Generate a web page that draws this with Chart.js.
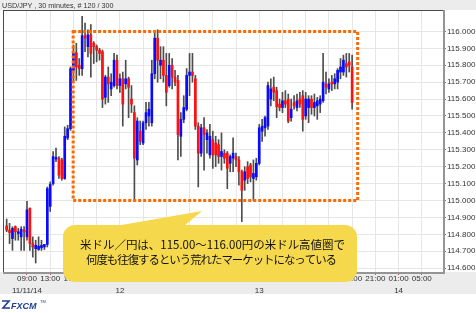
<!DOCTYPE html>
<html>
<head>
<meta charset="utf-8">
<title>USD/JPY 30 minutes</title>
<script src="https://cdn.jsdelivr.net/npm/chart.js@4.4.1/dist/chart.umd.min.js"></script>
<style>
  html, body { margin: 0; padding: 0; background: #ffffff; }
  canvas { display: block; }
</style>
</head>
<body>
<canvas id="usdjpyChart" width="476" height="313"></canvas>
<script>
// USD/JPY, 30 minute bars, 11/11/14 05:30 -> 13 17:00
var openPrices = [
  114.85, 114.825, 114.775, 114.845, 114.805, 114.785, 114.825, 114.785, 114.955, 114.745,
  114.715, 114.71, 114.72, 114.725, 114.74, 114.965, 115.10, 115.245, 115.25, 115.24,
  115.13, 115.37, 115.425, 115.77, 115.875, 115.80, 115.78, 115.975, 115.91, 115.98,
  115.93, 115.91, 115.89, 115.88, 115.61, 115.73, 115.66, 115.68, 115.83, 115.68,
  115.72, 115.69, 115.72, 115.60, 115.52, 115.24, 115.41, 115.34, 115.46, 115.50,
  115.46, 115.75, 115.96, 115.80, 115.83, 115.74, 115.68, 115.80, 115.73, 115.71,
  115.38, 115.48, 115.54, 115.74, 115.76, 115.72, 115.44, 115.28, 115.43, 115.36,
  115.27, 115.36, 115.34, 115.33, 115.26, 115.28, 115.28, 115.22, 115.25, 115.26,
  115.24, 115.17, 115.12, 115.20, 115.21, 115.13, 115.14, 115.22, 115.41, 115.43,
  115.44, 115.60, 115.67, 115.65, 115.57, 115.55, 115.59, 115.60, 115.49, 115.58,
  115.55, 115.60, 115.62, 115.50, 115.55, 115.60, 115.55, 115.56, 115.57, 115.59,
  115.69, 115.66, 115.70, 115.69, 115.70, 115.76, 115.76, 115.81, 115.82, 115.79
];
var highPrices = [
  114.89, 114.865, 114.845, 114.85, 114.835, 114.845, 114.845, 114.995, 114.955, 114.785,
  114.765, 114.785, 114.765, 114.74, 115.08, 115.11, 115.29, 115.31, 115.26, 115.25,
  115.435, 115.445, 115.79, 115.92, 115.93, 115.84, 116.09, 116.05, 116.01, 116.04,
  115.94, 115.92, 115.90, 115.89, 115.74, 115.79, 115.75, 115.87, 115.86, 115.75,
  115.76, 115.83, 115.73, 115.68, 115.56, 115.49, 115.47, 115.47, 115.58, 115.58,
  115.83, 116.00, 116.01, 115.91, 115.91, 115.87, 115.87, 115.84, 115.77, 115.74,
  115.52, 115.62, 115.78, 115.87, 115.87, 115.74, 115.46, 115.45, 115.49, 115.42,
  115.45, 115.41, 115.38, 115.36, 115.40, 115.30, 115.29, 115.27, 115.37, 115.28,
  115.26, 115.18, 115.20, 115.23, 115.22, 115.24, 115.25, 115.45, 115.48, 115.50,
  115.70, 115.72, 115.73, 115.67, 115.60, 115.64, 115.65, 115.63, 115.60, 115.62,
  115.63, 115.64, 115.65, 115.64, 115.62, 115.62, 115.63, 115.61, 115.62, 115.87,
  115.76, 115.72, 115.74, 115.75, 115.78, 115.84, 115.86, 115.87, 115.87, 115.86
];
var lowPrices = [
  114.815, 114.745, 114.705, 114.765, 114.765, 114.705, 114.705, 114.765, 114.705, 114.665,
  114.63, 114.705, 114.705, 114.71, 114.725, 114.935, 115.09, 115.23, 115.13, 115.12,
  115.125, 115.36, 115.415, 115.70, 115.71, 115.74, 115.74, 115.88, 115.85, 115.73,
  115.81, 115.82, 115.83, 115.55, 115.57, 115.58, 115.62, 115.67, 115.66, 115.64,
  115.44, 115.66, 115.49, 115.52, 115.00, 115.21, 115.33, 115.33, 115.42, 115.44,
  115.44, 115.72, 115.70, 115.72, 115.70, 115.56, 115.67, 115.66, 115.68, 115.24,
  115.26, 115.46, 115.53, 115.62, 115.70, 115.42, 115.08, 115.26, 115.18, 115.28,
  115.25, 115.19, 115.20, 115.22, 115.18, 115.22, 115.07, 115.17, 115.17, 115.20,
  115.09, 114.875, 115.06, 115.10, 115.11, 115.00, 115.12, 115.21, 115.35, 115.38,
  115.42, 115.56, 115.59, 115.49, 115.53, 115.52, 115.55, 115.46, 115.47, 115.54,
  115.53, 115.55, 115.41, 115.48, 115.46, 115.51, 115.50, 115.48, 115.52, 115.58,
  115.63, 115.64, 115.65, 115.66, 115.66, 115.72, 115.74, 115.73, 115.76, 115.54
];
var closePrices = [
  114.825, 114.81, 114.835, 114.815, 114.815, 114.83, 114.815, 114.945, 114.745, 114.725,
  114.735, 114.73, 114.735, 114.74, 115.07, 115.095, 115.26, 115.255, 115.15, 115.13,
  115.38, 115.425, 115.78, 115.87, 115.79, 115.78, 115.975, 115.96, 115.98, 115.87,
  115.91, 115.89, 115.87, 115.60, 115.73, 115.69, 115.70, 115.83, 115.68, 115.72,
  115.57, 115.72, 115.67, 115.57, 115.25, 115.47, 115.35, 115.46, 115.52, 115.54,
  115.75, 115.96, 115.83, 115.83, 115.74, 115.64, 115.80, 115.73, 115.70, 115.39,
  115.48, 115.55, 115.74, 115.76, 115.74, 115.44, 115.28, 115.43, 115.39, 115.40,
  115.38, 115.27, 115.27, 115.26, 115.29, 115.25, 115.19, 115.26, 115.28, 115.24,
  115.17, 115.06, 115.17, 115.13, 115.14, 115.16, 115.22, 115.43, 115.44, 115.49,
  115.68, 115.66, 115.64, 115.555, 115.55, 115.59, 115.57, 115.47, 115.54, 115.56,
  115.59, 115.57, 115.48, 115.60, 115.60, 115.55, 115.58, 115.59, 115.60, 115.70,
  115.67, 115.69, 115.69, 115.72, 115.77, 115.79, 115.83, 115.79, 115.80, 115.58
];

// x axis: one tick every 4 hours (8 bars), first tick on bar 7 (09:00)
var timeLabels = ['09:00', '13:00', '17:00', '21:00', '01:00', '05:00', '09:00', '13:00', '17:00',
                  '21:00', '01:00', '05:00', '09:00', '13:00', '17:00', '21:00', '01:00', '05:00'];
var dateLabels = ['11/11/14', '', '', '', '12', '', '', '', '',
                  '', '13', '', '', '', '', '', '14', ''];
var yTickValues = [114.6, 114.7, 114.8, 114.9, 115.0, 115.1, 115.2, 115.3,
                   115.4, 115.5, 115.6, 115.7, 115.8, 115.9, 116.0];

var firstTickBar = 7;
var barsPerTick = 8;

// orange range box (bars / prices)
var rangeBoxBars = [22.9, 120.9];
var rangeBoxPrices = [115.0, 116.0];

var calloutLines = ['米ドル／円は、115.00〜116.00円の米ドル高値圏で',
                    '何度も往復するという荒れたマーケットになっている'];

var upColor = '#0a0aff';
var downColor = '#ff1010';
var wickColor = '#4d4d4d';

function bodyData() {
  return closePrices.map(function(c, i) {
    return { x: i, y: [openPrices[i], c] };
  });
}

function wickData() {
  return highPrices.map(function(h, i) {
    return { x: i, y: [lowPrices[i], h] };
  });
}

function bodyColors() {
  return closePrices.map(function(c, i) {
    return c >= openPrices[i] ? upColor : downColor;
  });
}

function roundRectPath(ctx, x, y, w, h, r) {
  ctx.moveTo(x + r, y);
  ctx.lineTo(x + w - r, y);
  ctx.arcTo(x + w, y, x + w, y + r, r);
  ctx.lineTo(x + w, y + h - r);
  ctx.arcTo(x + w, y + h, x + w - r, y + h, r);
  ctx.lineTo(x + r, y + h);
  ctx.arcTo(x, y + h, x, y + h - r, r);
  ctx.lineTo(x, y + r);
  ctx.arcTo(x, y, x + r, y, r);
  ctx.closePath();
}

var backgroundPlugin = {
  id: 'background',
  beforeDraw: function(chart) {
    var ctx = chart.ctx;
    var area = chart.chartArea;
    ctx.save();
    ctx.fillStyle = '#ffffff';
    ctx.fillRect(0, 0, chart.width, chart.height);
    // title bar
    ctx.fillStyle = '#ececec';
    ctx.fillRect(0, 0, chart.width, area.top - 1);
    // time axis band
    ctx.fillStyle = '#ececec';
    ctx.fillRect(0, area.bottom, chart.width, 22);
    ctx.fillStyle = '#333333';
    ctx.font = '7.2px "Liberation Sans", Arial, sans-serif';
    ctx.textBaseline = 'alphabetic';
    ctx.fillText('USD/JPY , 30 minutes, # 120 / 300', 2, 8);
    ctx.restore();
  }
};

var overlayPlugin = {
  id: 'overlay',
  afterDraw: function(chart) {
    var ctx = chart.ctx;
    var area = chart.chartArea;
    var xs = chart.scales.x;
    var ys = chart.scales.y;
    ctx.save();

    // frame
    ctx.strokeStyle = '#4a4a4a';
    ctx.lineWidth = 1;
    ctx.beginPath();
    ctx.moveTo(area.left, area.top - 0.5);
    ctx.lineTo(area.right, area.top - 0.5);
    ctx.moveTo(area.left + 0.5, area.top - 1);
    ctx.lineTo(area.left + 0.5, area.bottom);
    ctx.stroke();
    ctx.strokeStyle = '#959595';
    ctx.lineWidth = 2;
    ctx.beginPath();
    ctx.moveTo(area.right + 1, area.top - 1);
    ctx.lineTo(area.right + 1, area.bottom + 2);
    ctx.moveTo(area.left, area.bottom + 1);
    ctx.lineTo(area.right + 2, area.bottom + 1);
    ctx.stroke();

    // orange dotted range box
    var bx1 = xs.getPixelForValue(rangeBoxBars[0]);
    var bx2 = xs.getPixelForValue(rangeBoxBars[1]);
    var by1 = ys.getPixelForValue(rangeBoxPrices[1]);
    var by2 = ys.getPixelForValue(rangeBoxPrices[0]);
    ctx.strokeStyle = '#ff6a00';
    ctx.lineWidth = 3;
    ctx.setLineDash([3, 2]);
    ctx.beginPath();
    ctx.rect(bx1, by1, bx2 - bx1, by2 - by1);
    ctx.stroke();
    ctx.setLineDash([]);

    // yellow callout
    ctx.fillStyle = '#f6d84c';
    ctx.beginPath();
    roundRectPath(ctx, 63, 225, 294, 57, 12);
    ctx.fill();
    ctx.beginPath();
    ctx.moveTo(116, 226);
    ctx.lineTo(202, 211);
    ctx.lineTo(184, 226);
    ctx.closePath();
    ctx.fill();

    ctx.fillStyle = '#111111';
    ctx.font = '11.5px "Noto Sans CJK JP", sans-serif';
    ctx.textBaseline = 'middle';
    ctx.fillText(calloutLines[0], 80, 245, 265);
    if ('letterSpacing' in ctx) {
      ctx.letterSpacing = '-1px';
    }
    ctx.fillText(calloutLines[1], 86, 260, 250);
    if ('letterSpacing' in ctx) {
      ctx.letterSpacing = '0px';
    }

    // FXCM logo
    ctx.strokeStyle = '#1e3f91';
    ctx.fillStyle = '#1e3f91';
    ctx.lineWidth = 1.6;
    ctx.beginPath();
    ctx.moveTo(2, 301);
    ctx.lineTo(9, 301);
    ctx.lineTo(3, 308);
    ctx.lineTo(10, 308);
    ctx.stroke();
    ctx.font = 'italic bold 9px "Liberation Sans", Arial, sans-serif';
    ctx.textBaseline = 'alphabetic';
    ctx.fillText('FXCM', 11, 309);
    ctx.font = '4px "Liberation Sans", Arial, sans-serif';
    ctx.fillText('TM', 40, 303);

    ctx.restore();
  }
};

var ctx = document.getElementById('usdjpyChart');
var usdjpyChart = new Chart(ctx, {
  type: 'bar',
  data: {
    datasets: [
      {
        data: bodyData(),
        backgroundColor: bodyColors(),
        borderWidth: 0,
        barThickness: 2,
        minBarLength: 1,
        grouped: false
      },
      {
        data: wickData(),
        backgroundColor: wickColor,
        borderWidth: 0,
        barThickness: 1,
        grouped: false
      }
    ]
  },
  options: {
    responsive: false,
    animation: false,
    devicePixelRatio: 1,
    layout: { padding: { left: 3, top: 11, right: 0, bottom: 19 } },
    plugins: {
      legend: { display: false },
      tooltip: { enabled: false },
      title: { display: false }
    },
    scales: {
      x: {
        type: 'linear',
        offset: false,
        min: -1.26,
        max: 150.3,
        afterBuildTicks: function(scale) {
          scale.ticks = timeLabels.map(function(t, k) {
            return { value: firstTickBar + k * barsPerTick };
          });
        },
        afterFit: function(scale) {
          // labels are well inside the plot, no edge padding needed
          scale.height = 22;
          scale.paddingLeft = 0;
          scale.paddingRight = 0;
        },
        border: { display: false },
        grid: { offset: false, color: '#e6e6e6', tickColor: '#e04848', tickLength: 3, drawTicks: true },
        ticks: {
          autoSkip: false,
          maxRotation: 0,
          padding: -2,
          color: '#333333',
          font: { family: '"Liberation Sans", Arial, sans-serif', size: 8, lineHeight: 1.5 },
          callback: function(value, index) {
            if (dateLabels[index]) {
              return [timeLabels[index], dateLabels[index]];
            }
            return timeLabels[index];
          }
        }
      },
      y: {
        position: 'right',
        min: 114.577,
        max: 116.121,
        afterBuildTicks: function(scale) {
          scale.ticks = yTickValues.map(function(v) {
            return { value: v };
          });
        },
        afterFit: function(scale) {
          scale.width = 33;
          scale.paddingTop = 0;
          scale.paddingBottom = 0;
        },
        border: { display: false },
        grid: { color: '#e6e6e6', tickColor: '#e04848', tickLength: 3, drawTicks: true },
        ticks: {
          padding: 1,
          color: '#333333',
          font: { family: '"Liberation Sans", Arial, sans-serif', size: 8 },
          callback: function(value) {
            return Number(value).toFixed(3);
          }
        }
      }
    }
  },
  plugins: [backgroundPlugin, overlayPlugin]
});
</script>
</body>
</html>
